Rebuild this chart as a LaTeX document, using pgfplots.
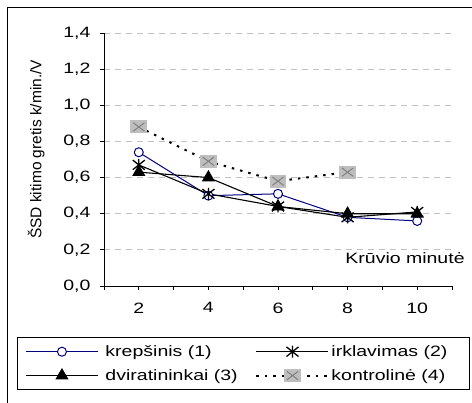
\documentclass[border=0pt]{standalone}
\usepackage{fontspec}
\setmainfont{Liberation Sans}
\usepackage{graphicx}
\usepackage{pgfplots}
\pgfplotsset{compat=1.18}
\newcommand\sx[1]{\scalebox{1.3}[1]{#1}}
\definecolor{navyline}{RGB}{0,0,128}
\definecolor{sqfill}{RGB}{190,190,190}
\definecolor{sqline}{RGB}{128,128,128}
\definecolor{gridgray}{RGB}{192,192,192}
\pgfdeclareplotmark{sqx}{%
 \pgfpathrectangle{\pgfqpoint{-1.2\pgfplotmarksize}{-0.93\pgfplotmarksize}}{\pgfqpoint{2.4\pgfplotmarksize}{1.86\pgfplotmarksize}}%
 \pgfsetfillcolor{sqfill}\pgfusepathqfill
 \pgfpathmoveto{\pgfqpoint{-0.8\pgfplotmarksize}{-0.6\pgfplotmarksize}}\pgfpathlineto{\pgfqpoint{0.8\pgfplotmarksize}{0.6\pgfplotmarksize}}%
 \pgfpathmoveto{\pgfqpoint{-0.8\pgfplotmarksize}{0.6\pgfplotmarksize}}\pgfpathlineto{\pgfqpoint{0.8\pgfplotmarksize}{-0.6\pgfplotmarksize}}%
 \pgfsetstrokecolor{sqline}\pgfsetdash{}{0pt}\pgfsetlinewidth{1pt}\pgfusepathqstroke}
\pgfdeclareplotmark{xstar}{%
 \pgfpathmoveto{\pgfqpoint{0pt}{-\pgfplotmarksize}}\pgfpathlineto{\pgfqpoint{0pt}{\pgfplotmarksize}}%
 \pgfpathmoveto{\pgfqpoint{-\pgfplotmarksize}{-0.8\pgfplotmarksize}}\pgfpathlineto{\pgfqpoint{\pgfplotmarksize}{0.8\pgfplotmarksize}}%
 \pgfpathmoveto{\pgfqpoint{-\pgfplotmarksize}{0.8\pgfplotmarksize}}\pgfpathlineto{\pgfqpoint{\pgfplotmarksize}{-0.8\pgfplotmarksize}}%
 \pgfusepathqstroke}
\begin{document}
\begin{tikzpicture}[x=1pt,y=1pt]
\useasboundingbox (0,0) rectangle (472,403);
\draw[line width=1pt] (7,-5) -- (7,395) -- (480,395);
\begin{axis}[
 at={(104pt,117pt)}, anchor=south west,
 scale only axis, width=348pt, height=253pt,
 xmin=1, xmax=11, ymin=0, ymax=1.4,
 clip=false,
 axis x line*=bottom, axis y line*=left,
 axis line style={line width=0.8pt, -},
 xtick={2,4,6,8,10}, minor xtick={1,3,5,7,9,11},
 ytick={0,0.2,0.4,0.6,0.8,1.0,1.2,1.4},
 tick align=outside, major tick length=4pt, minor tick length=4pt,
 tick style={black, line width=0.8pt},
 ymajorgrids, grid style={gridgray, dash pattern=on 6pt off 5pt, line width=0.8pt},
 /pgf/number format/assume math mode=true,
 xticklabel={\sx{\pgfmathprintnumber{\tick}}},
 yticklabel={\sx{\pgfmathprintnumber[fixed,fixed zerofill,precision=1,use comma]{\tick}}},
 tick label style={font=\fontsize{15}{17}\selectfont},
 x tick label style={yshift=-9pt},
 y tick label style={xshift=-6pt},
 ylabel={ŠSD kitimo gretis k/min./V},
 ylabel style={font=\fontsize{15.5}{17}\selectfont, at={(axis description cs:-0.195,0.54)}, anchor=center},
 legend columns=2,
 legend style={at={(axis description cs:-0.25,-0.202)}, anchor=north west, draw=black, line width=0.8pt,
   font=\fontsize{15}{17}\selectfont, inner xsep=8pt, inner ysep=6pt, row sep=7.5pt,
   /tikz/every odd column/.append style={column sep=0pt}},
 legend cell align=left,
 legend image code/.code={\draw[mark repeat=2,mark phase=2,#1] plot coordinates {(0pt,0pt) (36pt,0pt) (72pt,0pt)};},
]
\addplot[navyline, line width=1pt, mark=*, mark size=4.5pt, mark options={fill=white, draw=navyline, solid, line width=1pt}]
 coordinates {(2,0.74) (4,0.50) (6,0.51) (8,0.38) (10,0.36)};
\addlegendentry{\makebox[153pt][l]{\hspace{5pt}\sx{krepšinis (1)}}}
\addplot[black, line width=1.1pt, mark=xstar, mark size=6pt, mark options={solid, line width=1.3pt}]
 coordinates {(2,0.67) (4,0.51) (6,0.44) (8,0.38) (10,0.41)};
\addlegendentry{\makebox[128pt][l]{\sx{irklavimas (2)}}}
\addplot[black, line width=1.1pt, mark=triangle*, mark size=6.5pt, mark options={solid}]
 coordinates {(2,0.63) (4,0.60) (6,0.44) (8,0.40) (10,0.40)};
\addlegendentry{\makebox[153pt][l]{\hspace{5pt}\sx{dviratininkai (3)}}}
\addplot[black, line width=2pt, dash pattern=on 2.5pt off 6pt, mark=sqx, mark size=7pt, mark options={solid}]
 coordinates {(2,0.88) (4,0.69) (6,0.58) (8,0.63)};
\addlegendentry{\makebox[128pt][l]{\sx{kontrolinė (4)}}}
\node[font=\fontsize{15}{17}\selectfont, anchor=center] at (axis description cs:0.865,0.11) {\sx{Krūvio minutė}};
\end{axis}
\end{tikzpicture}
\end{document}
